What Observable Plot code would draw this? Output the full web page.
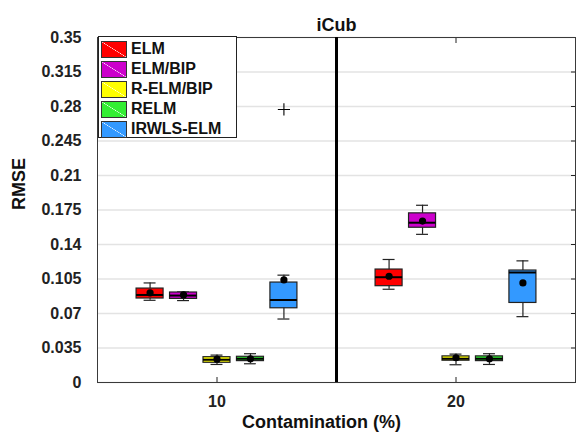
<!DOCTYPE html>
<html>
<head>
<meta charset="utf-8">
<script src="https://cdn.jsdelivr.net/npm/d3@7"></script>
<script src="https://cdn.jsdelivr.net/npm/@observablehq/plot@0.6"></script>
<style>
  body { margin: 0; background: #fff; }
  #wrap { position: relative; width: 576px; height: 437px; font-family: "Liberation Sans", Arial, Helvetica, sans-serif; }
  #legend { position: absolute; left: 98px; top: 36px; width: 139px; height: 102px; box-sizing: border-box;
            border: 1px solid #222; background: #fff; }
  .entry { position: absolute; left: 2px; height: 18px; display: flex; align-items: center; }
  .patch { width: 26px; height: 17px; box-sizing: border-box; border: 1px solid #333; margin-right: 4px; }
  .lab { font-weight: bold; font-size: 16px; color: #111; }
</style>
</head>
<body>
<div id="wrap"></div>
<script>
const categories = [10, 20];
const methods = ["ELM", "ELM/BIP", "R-ELM/BIP", "RELM", "IRWLS-ELM"];
const colors = ["#ff0000", "#cc00cc", "#ffff00", "#33ee33", "#3399ff"];
// boxes ordered: category 10 (5 methods), then category 20 (5 methods)
const whiskerLow  = [0.0834, 0.0831, 0.0183, 0.0190, 0.0644, 0.0946, 0.1503, 0.0180, 0.0183, 0.0668];
const quart1      = [0.0852, 0.0848, 0.0200, 0.0217, 0.0753, 0.0977, 0.1570, 0.0221, 0.0217, 0.0807];
const medians     = [0.0888, 0.0882, 0.0231, 0.0241, 0.0837, 0.1068, 0.1621, 0.0241, 0.0241, 0.1116];
const quart3      = [0.0953, 0.0913, 0.0257, 0.0261, 0.1014, 0.1146, 0.1716, 0.0265, 0.0265, 0.1136];
const whiskerHigh = [0.1010, 0.0919, 0.0278, 0.0292, 0.1089, 0.1248, 0.1798, 0.0288, 0.0292, 0.1234];
const means       = [0.0909, 0.0888, 0.0237, 0.0241, 0.1041, 0.1078, 0.1638, 0.0251, 0.0241, 0.1010];
const outlierCategory = [10];
const outlierMethod = ["IRWLS-ELM"];
const outlierValue = [0.277];
const yTicks = [0, 0.035, 0.07, 0.105, 0.14, 0.175, 0.21, 0.245, 0.28, 0.315, 0.35];
const yTickLabels = ["0", "0.035", "0.07", "0.105", "0.14", "0.175", "0.21", "0.245", "0.28", "0.315", "0.35"];
const xTicks = [10, 20];
const xTickLabels = ["10", "20"];
const separator = [15];
const title = "iCub";
const xLabel = "Contamination (%)";
const yLabel = "RMSE";

const dodge = 1.4, halfBox = 0.565, halfCap = 0.25;
const boxes = [];
categories.forEach((c, ci) => methods.forEach((m, mi) => {
  const k = ci * methods.length + mi;
  const x = c + (mi - 2) * dodge;
  boxes.push({cat: c, method: m, color: colors[mi], x, x1: x - halfBox, x2: x + halfBox, c1: x - halfCap, c2: x + halfCap,
    lo: whiskerLow[k], q1: quart1[k], med: medians[k], q3: quart3[k], hi: whiskerHigh[k], mean: means[k]});
}));
const outs = outlierValue.map((v, i) => ({x: outlierCategory[i] + (methods.indexOf(outlierMethod[i]) - 2) * dodge, y: v}));

const font = '"Liberation Sans", Arial, Helvetica, sans-serif';
const plot = Plot.plot({
  width: 576, height: 437,
  marginTop: 37, marginBottom: 55, marginLeft: 97, marginRight: 1,
  style: {fontFamily: font, fontWeight: "bold", fontSize: "16px", color: "#222", background: "#fff"},
  x: {domain: [5, 25]},
  y: {domain: [0, 0.35]},
  marks: [
    Plot.gridY(yTicks, {stroke: "#e3e3e3", strokeOpacity: 1, strokeWidth: 1.3}),
    Plot.axisY(yTicks, {anchor: "left", tickSize: -5, tickPadding: 21, tickFormat: (d, i) => yTickLabels[yTicks.indexOf(d)], label: null, fontSize: 16, fontWeight: "bold", stroke: null}),
    Plot.axisY(yTicks, {anchor: "right", tickSize: -5, tickFormat: () => "", label: null}),
    Plot.axisX(xTicks, {anchor: "bottom", tickSize: -5, tickPadding: 18, tickFormat: d => xTickLabels[xTicks.indexOf(d)], label: null, fontSize: 16, fontWeight: "bold"}),
    Plot.axisX(xTicks, {anchor: "top", tickSize: -5, tickFormat: () => "", label: null}),
    Plot.frame({stroke: "#3a3a3a", strokeWidth: 1}),
    Plot.ruleX(separator, {stroke: "#000", strokeWidth: 3}),
    Plot.ruleX(boxes, {x: "x", y1: "lo", y2: "hi", stroke: "#222", strokeWidth: 1.2}),
    Plot.ruleY(boxes, {y: "lo", x1: "c1", x2: "c2", stroke: "#222", strokeWidth: 1.2}),
    Plot.ruleY(boxes, {y: "hi", x1: "c1", x2: "c2", stroke: "#222", strokeWidth: 1.2}),
    Plot.rect(boxes, {x1: "x1", x2: "x2", y1: "q1", y2: "q3", fill: "color", stroke: "#222", strokeWidth: 1.2}),
    Plot.ruleY(boxes, {y: "med", x1: "x1", x2: "x2", stroke: "#000", strokeWidth: 2}),
    Plot.dot(boxes, {x: "x", y: "mean", r: 3.6, fill: "#000", stroke: null}),
    Plot.dot(outs, {x: "x", y: "y", symbol: "plus", r: 4, stroke: "#000", strokeWidth: 1.1}),
    Plot.text([title], {frameAnchor: "top", text: d => d, lineAnchor: "bottom", dy: -7, fontSize: 18, fontWeight: "bold", fill: "#111"}),
    Plot.text([xLabel], {frameAnchor: "bottom", text: d => d, lineAnchor: "top", dy: 33, dx: -15, fontSize: 18, fontWeight: "bold", fill: "#111"}),
    Plot.text([yLabel], {frameAnchor: "left", text: d => d, rotate: -90, dx: -78, fontSize: 18, fontWeight: "bold", fill: "#111"})
  ]
});
const wrap = document.getElementById("wrap");
wrap.appendChild(plot);

const legend = document.createElement("div");
legend.id = "legend";
methods.forEach((m, i) => {
  const e = document.createElement("div");
  e.className = "entry";
  e.style.top = (3 + i * 20) + "px";
  const p = document.createElement("div");
  p.className = "patch";
  p.style.background = `linear-gradient(to top right, ${colors[i]} calc(50% - 0.5px), rgba(255,255,255,0.35) 50%, ${colors[i]} calc(50% + 0.5px))`;
  const t = document.createElement("span");
  t.className = "lab";
  t.textContent = m;
  e.appendChild(p); e.appendChild(t);
  legend.appendChild(e);
});
wrap.appendChild(legend);
</script>
</body>
</html>
